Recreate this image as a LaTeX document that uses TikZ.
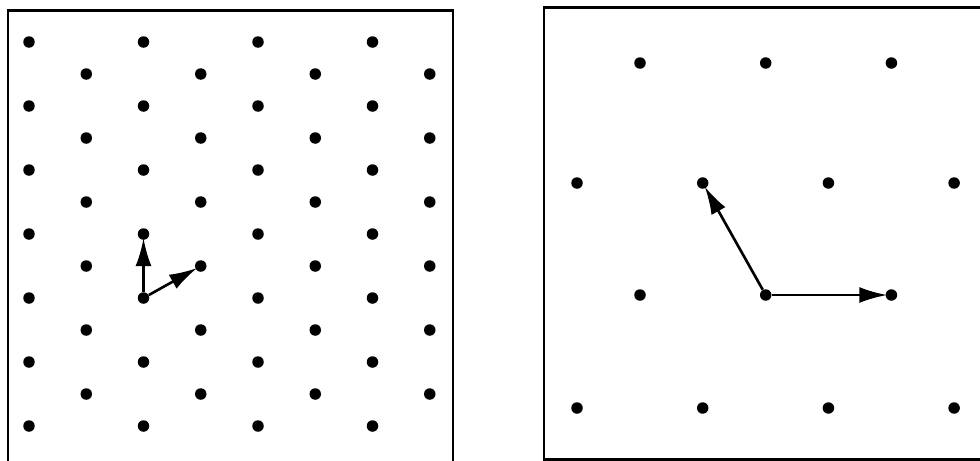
\documentclass[tikz,border=0pt]{standalone}
\usetikzlibrary{arrows.meta}

\begin{document}
\begin{tikzpicture}[x=0.02cm, y=-0.02cm, >={Latex[length=5.6mm,width=3.2mm]},
    pt/.style={circle, fill=black, inner sep=0pt, minimum size=2.3mm},
    vec/.style={->, line width=1.5pt, shorten >=-0.4mm},
    frame/.style={line width=1.5pt}]
    \useasboundingbox (0,0) rectangle (980,460);
    \clip (0,0) rectangle (980,460);
    % left panel: dense lattice
    \draw[frame] (8,10.5) rectangle (453,480);
    \foreach \r in {0,...,12} {
        \pgfmathsetmacro{\yy}{42+32*\r}
        \pgfmathsetmacro{\xs}{isodd(\r) ? 86.25 : 29}
        \foreach \c in {0,...,3}
            \node[pt] (l-\r-\c) at ({\xs+114.5*\c},\yy) {};
    }
    \draw[vec] (l-8-1) -- (l-6-1);
    \draw[vec] (l-8-1) -- (l-7-1);
    % right panel: coarse lattice
    \draw[frame] (544,7.5) rectangle (1000,459.5);
    \foreach \r/\yy/\xs/\n in {0/63/640/2, 1/183/577/3, 2/295/640/2, 3/408/577/3}
        \foreach \c in {0,...,\n}
            \node[pt] (r-\r-\c) at ({\xs+125.7*\c},\yy) {};
    \draw[vec] (r-2-1) -- (r-1-1);
    \draw[vec] (r-2-1) -- (r-2-2);
\end{tikzpicture}
\end{document}
